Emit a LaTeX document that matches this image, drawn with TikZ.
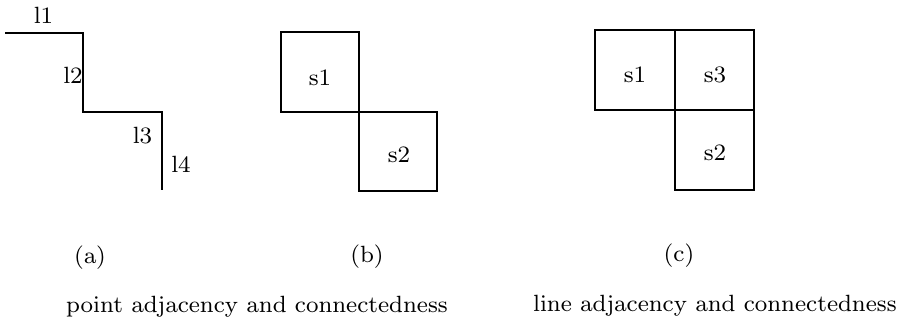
\documentclass[tikz,border=0pt]{standalone}
% Computer Modern at a small design size, scaled up: wide letterforms
\font\figfont=cmr8 at 23.5pt
\begin{document}
\begin{tikzpicture}[x=1pt,y=-1pt,
  edge/.style={line width=1.6pt,line join=miter},
  lbl/.style={font=\figfont,inner sep=0pt,anchor=base},
  captext/.style={font=\figfont,inner sep=0pt}]
\useasboundingbox (0,0) rectangle (900,322);

% (a) staircase of four line segments
\coordinate (p0) at (5,33);
\coordinate (p1) at (83,33);
\coordinate (p2) at (83,112);
\coordinate (p3) at (162,112);
\coordinate (p4) at (162,190);
\draw[edge] (p0) -- (p1) -- (p2) -- (p3) -- (p4);
\node[lbl] (l1) at (43.5,23) {l1};
\node[lbl] (l2) at (73,83) {l2};
\node[lbl] (l3) at (142.5,143) {l3};
\node[lbl] (l4) at (181,172) {l4};

% (b) two squares touching at one corner
\draw[edge] (281,32) rectangle (359,112);
\draw[edge] (359,112) rectangle (437,191);
\node[lbl] (bs1) at (320,85) {s1};
\node[lbl] (bs2) at (399,162) {s2};

% (c) three squares sharing edges
\draw[edge] (595,30) rectangle (675,110);
\draw[edge] (675,30) rectangle (754,110);
\draw[edge] (675,110) rectangle (754,190);
\node[lbl] (cs1) at (635,82) {s1};
\node[lbl] (cs3) at (715,82) {s3};
\node[lbl] (cs2) at (715,160) {s2};

% sub-figure tags and captions
\node[lbl] (ta) at (90,263) {(a)};
\node[lbl] (tb) at (367,262) {(b)};
\node[lbl] (tc) at (679,261) {(c)};
\node[captext,anchor=base west] (capb) at (66,312) {point adjacency and connectedness};
\node[captext,anchor=base east] (capc) at (897,311) {line adjacency and connectedness};
\end{tikzpicture}
\end{document}
